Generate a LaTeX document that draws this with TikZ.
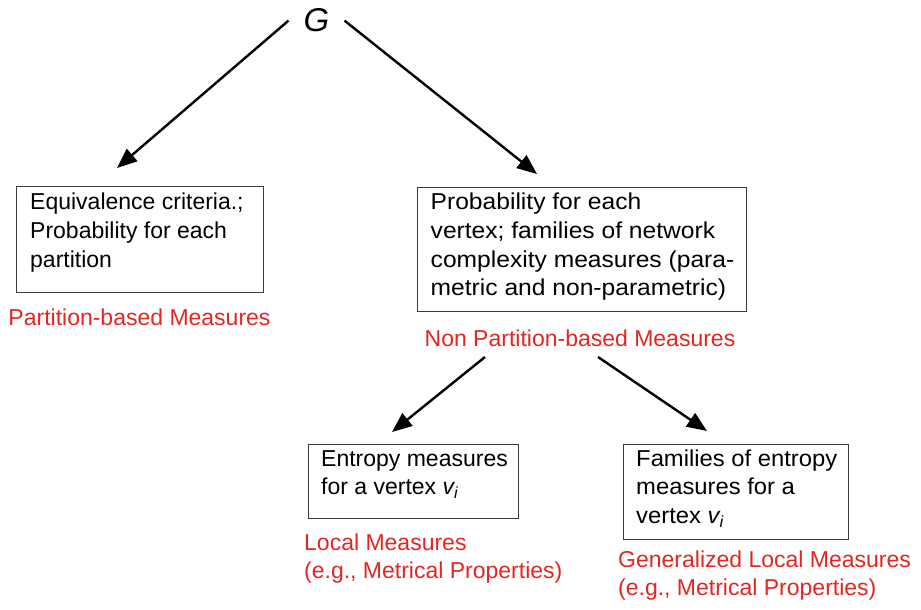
\documentclass[tikz,border=0pt]{standalone}
\usepackage{fontspec}
\setmainfont{Liberation Sans}
\newfontfamily\wideA[FakeStretch=1.07]{Liberation Sans}
\newfontfamily\wideB[FakeStretch=1.035]{Liberation Sans}
\usetikzlibrary{arrows.meta}
\definecolor{lblred}{RGB}{228,38,34}
\definecolor{boxgray}{RGB}{60,60,60}
\newcommand{\vsub}{{\itshape v}\textsubscript{\itshape i}}
\begin{document}
\begin{tikzpicture}[x=1pt,y=-1pt,
  every node/.style={font=\fontsize{23}{28.7}\selectfont},
  box/.style={draw=boxgray, line width=1pt, anchor=north west, inner sep=0pt},
  txt/.style={anchor=north west, align=left, inner sep=0pt},
  lbl/.style={text=lblred, align=left, inner sep=0pt},
  arr/.style={line width=2.4pt, -{Triangle[length=20pt,width=16pt]}}]
\useasboundingbox (0,0) rectangle (921,610);

% root
\node[font=\fontsize{33}{38}\selectfont\itshape, anchor=base, inner xsep=15pt, inner ysep=2pt] (G) at (316.5,32) {G};

% boxes
\node[box, minimum width=247pt, minimum height=106pt] (b1) at (16,186) {};
\node[box, minimum width=329pt, minimum height=124pt] (b2) at (417,187) {};
\node[box, minimum width=210pt, minimum height=74pt] (b3) at (308,444) {};
\node[box, minimum width=225pt, minimum height=95pt] (b4) at (623,444) {};

% box texts
\node[txt] (t1) at ([xshift=14pt,yshift=-3.5pt]b1.north west) {\strut Equivalence criteria.;\\Probability for each\\partition};
\node[txt, font=\fontsize{23}{28.7}\selectfont\wideA] (t2) at ([xshift=13.5pt,yshift=-2.5pt]b2.north west) {\strut Probability for each\\vertex; families of network\\complexity measures (para-\\metric and non-parametric)};
\node[txt] (t3) at ([xshift=13pt,yshift=-2pt]b3.north west) {\strut Entropy measures\\for a vertex \vsub};
\node[txt, font=\fontsize{23}{28.7}\selectfont\wideB] (t4) at ([xshift=13pt,yshift=-2pt]b4.north west) {\strut Families of entropy\\measures for a\\vertex \vsub};

% red labels
\node[lbl, anchor=base] (l1) at (139.5,325) {Partition-based Measures};
\node[lbl, anchor=base] (l2) at (580,346) {Non Partition-based Measures};
\node[lbl, anchor=north west] (l3) at (304,530) {\strut Local Measures\\(e.g., Metrical Properties)};
\node[lbl, anchor=north west] (l4) at (618,547) {\strut Generalized Local Measures\\(e.g., Metrical Properties)};

% arrow end points
\coordinate (e1) at (117,168);
\coordinate (e2) at (537,174);
\coordinate (s3) at (485,357);
\coordinate (e3) at (392,432);
\coordinate (s4) at (598,357);
\coordinate (e4) at (707,431);

\draw[arr] (G.west) -- (e1);
\draw[arr] (G.east) -- (e2);
\draw[arr] (s3) -- (e3);
\draw[arr] (s4) -- (e4);
\end{tikzpicture}
\end{document}
